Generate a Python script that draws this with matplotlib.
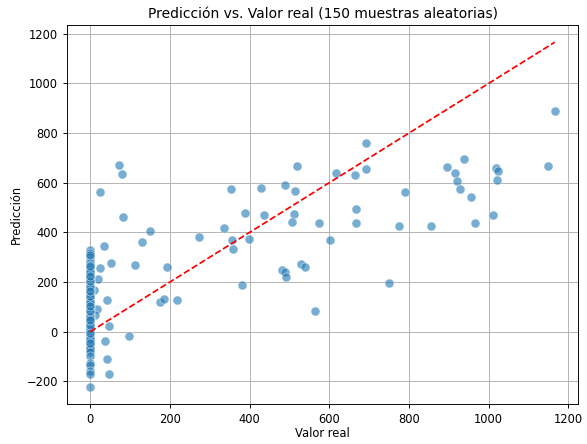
import matplotlib
matplotlib.use("Agg")
import matplotlib.pyplot as plt
import numpy as np

# Muestras con valor real distinto de cero (valor real, predicción)
real_nonzero = [73, 80, 25, 82, 149, 130, 273, 35, 52, 25, 113, 193, 19, 9, 41,
                18, 12, 174, 186, 219, 47, 98, 36, 41, 46, 520, 618, 354, 429,
                490, 513, 388, 436, 511, 507, 573, 336, 355, 398, 358, 601, 528,
                538, 482, 490, 492, 381, 564, 691, 665, 691, 789, 668, 668, 774,
                855, 750, 895, 916, 921, 929, 1166, 937, 956, 967, 1010, 1018,
                1024, 1022, 1148]
pred_nonzero = [671, 634, 562, 460, 404, 362, 380, 344, 277, 255, 270, 260, 213,
                166, 126, 92, 68, 118, 131, 127, 21, -17, -36, -110, -172, 666,
                638, 574, 577, 589, 568, 477, 472, 473, 440, 437, 419, 370, 372,
                335, 368, 274, 260, 247, 239, 221, 189, 85, 759, 633, 654, 563,
                493, 438, 426, 426, 197, 665, 639, 605, 576, 888, 694, 542, 437,
                472, 660, 646, 612, 667]

# Muestras con valor real igual a cero: sólo varía la predicción
pred_zero = [330, 318, 300, 290, 282, 275, 268, 260, 252, 245, 238, 230, 222,
             215, 208, 200, 192, 185, 178, 170, 162, 155, 148, 140, 132, 125,
             118, 110, 102, 95, 88, 80, 72, 65, 58, 50, 43, 36, 28, 20, 14, 8,
             2, -4, -10, -16, -22, -28, -34, -40, -46, -52, -58, -64, -70,
             -80, -100, -125, -135, -160, -170, -222,
             240, 180, 120, 60, 10, -30, 265, 205, 145, 85, 25, -45,
             225, 165, 105, 45, -5, 310]

y_true = np.array(real_nonzero + [0] * len(pred_zero), dtype=float)
y_pred = np.array(pred_nonzero + pred_zero, dtype=float)

fig = plt.figure(figsize=(5.87, 4.44), dpi=100)
ax = fig.add_axes([67 / 587, 40 / 444, 511 / 587, 379 / 444])

ax.scatter(y_true, y_pred, s=42, color="#1f77b4", alpha=0.6,
           edgecolors="white", linewidths=0.5, zorder=3)
lo = max(min(y_true.min(), y_pred.min()), 0)
hi = max(y_true.max(), y_pred.max())
ax.plot([lo, hi], [lo, hi], "r--", linewidth=1.25, zorder=4)

ax.set_xticks([0, 200, 400, 600, 800, 1000, 1200])
ax.set_yticks([-200, 0, 200, 400, 600, 800, 1000, 1200])
ax.tick_params(labelsize=8.3, width=0.67, length=3)
for sp in ax.spines.values():
    sp.set_linewidth(0.67)
ax.set_xlabel("Valor real", fontsize=8.3, labelpad=1)
ax.set_ylabel("Predicción", fontsize=8.3, labelpad=2.5)
ax.set_title("Predicción vs. Valor real (150 muestras aleatorias)", fontsize=10,
             pad=5)
ax.grid(True, linewidth=0.67, zorder=0)
ax.set_axisbelow(True)

fig.savefig("out.png", dpi=100)
